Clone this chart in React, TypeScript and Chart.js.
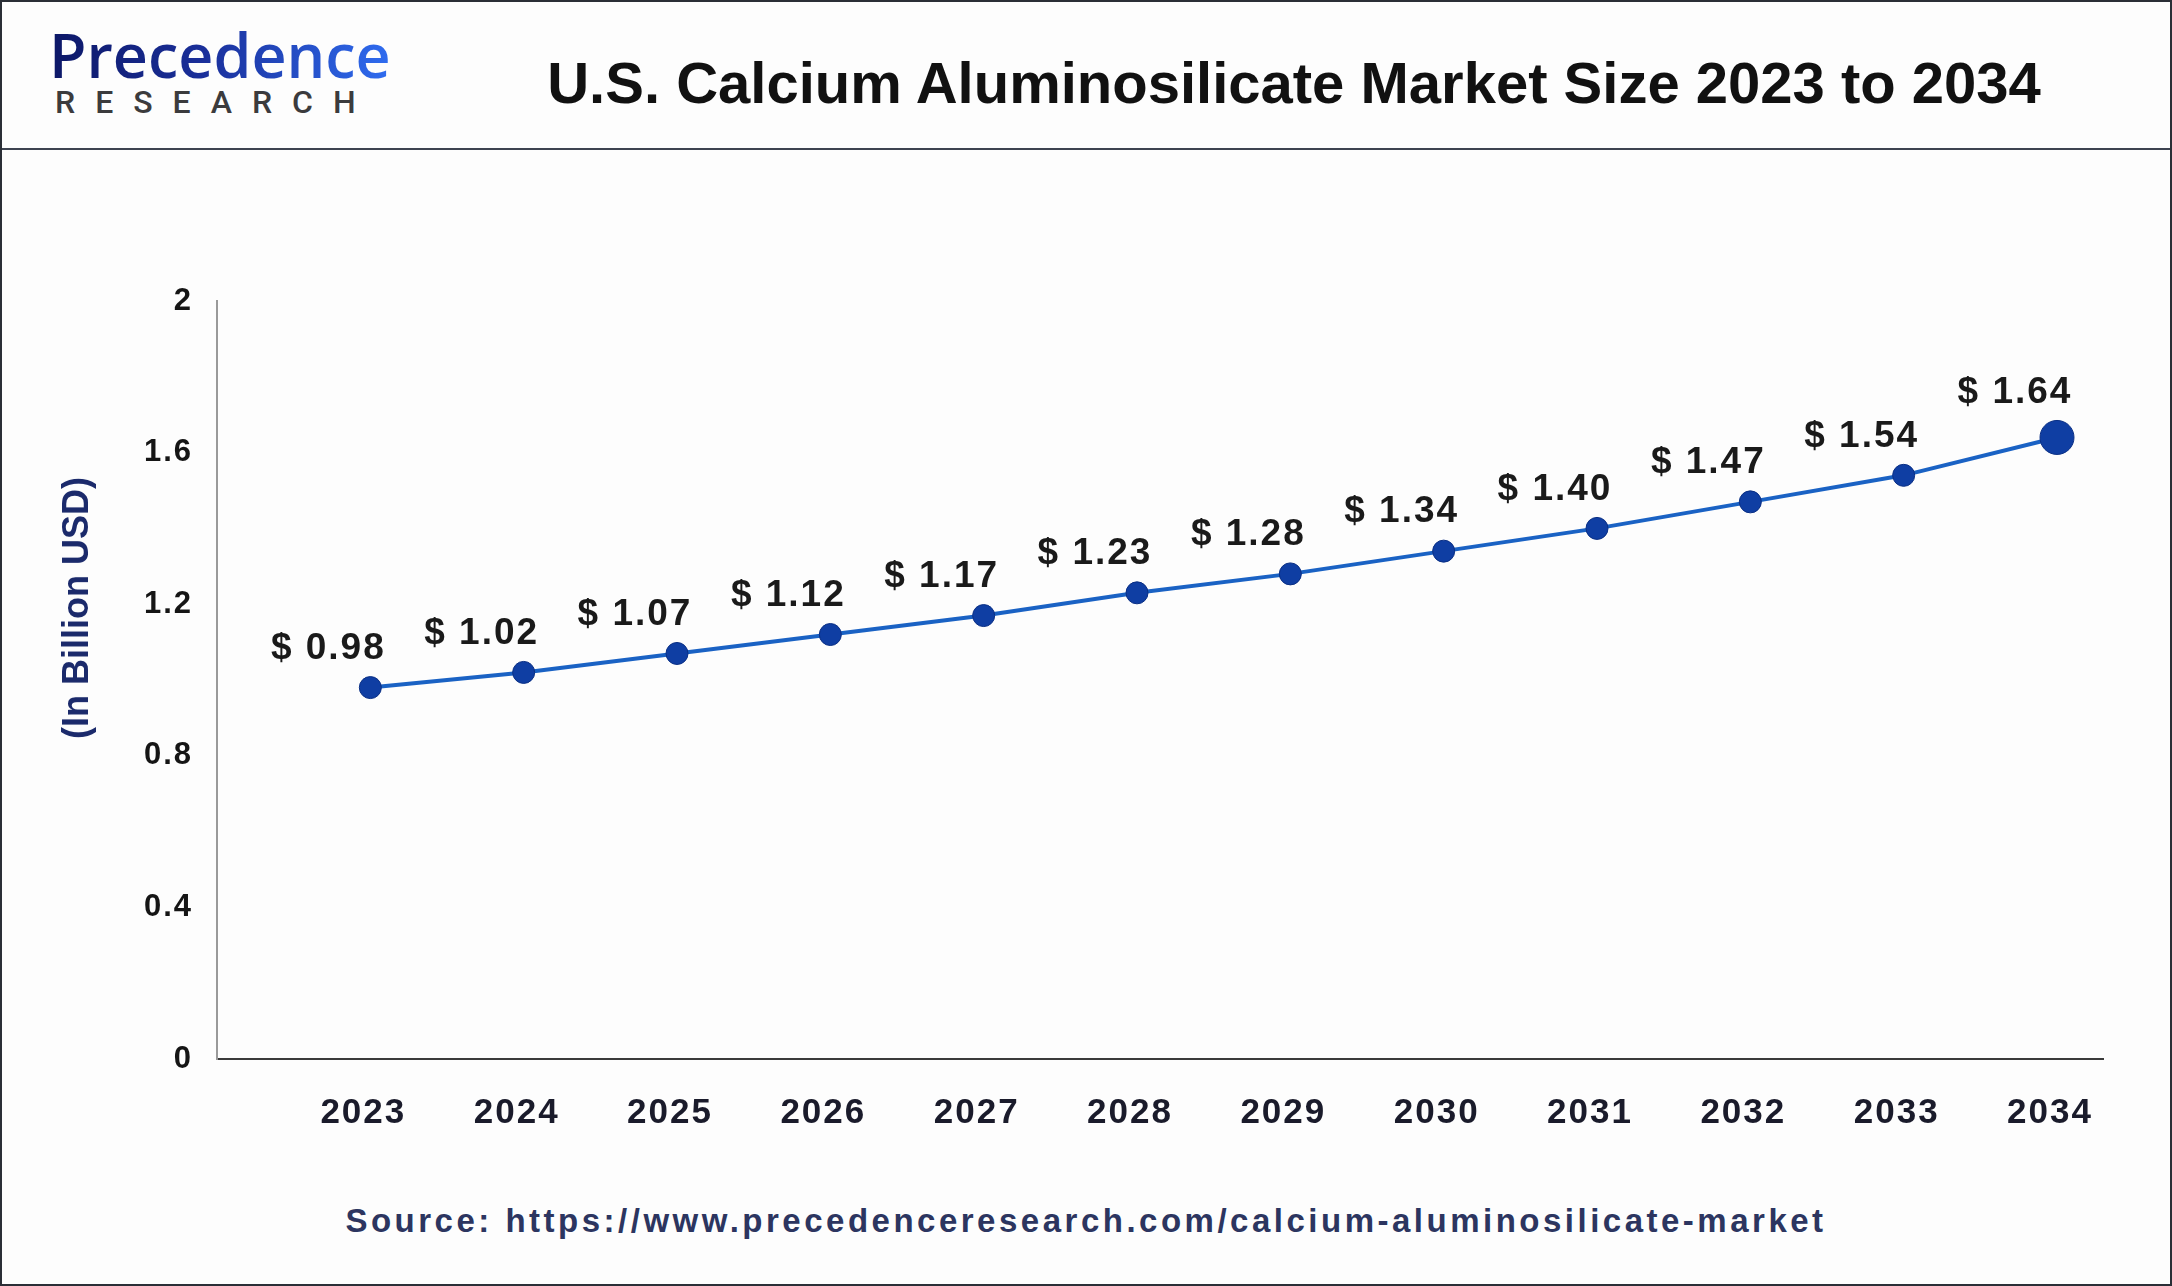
import React, { useEffect, useRef } from 'react';
import { Chart, registerables } from 'chart.js';

Chart.register(...registerables);

const years = [2023, 2024, 2025, 2026, 2027, 2028, 2029, 2030, 2031, 2032, 2033, 2034];
const marketSize = [0.98, 1.02, 1.07, 1.12, 1.17, 1.23, 1.28, 1.34, 1.4, 1.47, 1.54, 1.64];
const yTicks = [0, 0.4, 0.8, 1.2, 1.6, 2];
const titleText = 'U.S. Calcium Aluminosilicate Market Size 2023 to 2034';
const yAxisTitle = '(In Billion USD)';
const sourceText = 'Source: https://www.precedenceresearch.com/calcium-aluminosilicate-market';

const FONT = '"Liberation Sans", Arial, Helvetica, sans-serif';

const spacingPlugin = {
  id: 'spacingPlugin',
  beforeDraw(chart: any) {
    (chart.ctx as any).letterSpacing = '2px';
  },
};

const valueLabelPlugin = {
  id: 'valueLabelPlugin',
  afterDatasetsDraw(chart: any) {
    const meta = chart.getDatasetMeta(0);
    const ctx = chart.ctx;
    ctx.save();
    (ctx as any).letterSpacing = '2px';
    ctx.font = `bold 37px ${FONT}`;
    ctx.fillStyle = '#1a1a1a';
    ctx.textAlign = 'center';
    ctx.textBaseline = 'middle';
    const last = meta.data.length - 1;
    meta.data.forEach((pt: any, i: number) => {
      const r = i === last ? 17 : 11;
      ctx.fillText(`$ ${marketSize[i].toFixed(2)}`, pt.x - 42, pt.y - r - 28);
    });
    ctx.restore();
  },
};

function LineChart() {
  const ref = useRef<HTMLCanvasElement | null>(null);
  useEffect(() => {
    if (!ref.current) return;
    const last = years.length - 1;
    const chart = new Chart(ref.current, {
      type: 'line',
      data: {
        datasets: [
          {
            label: 'Market Size',
            data: years.map((y, i) => ({ x: y, y: marketSize[i] })),
            borderColor: '#1a62c4',
            borderWidth: 4,
            pointRadius: years.map((_, i) => (i === last ? 17 : 11)),
            pointHoverRadius: years.map((_, i) => (i === last ? 17 : 11)),
            pointBackgroundColor: '#0f3ea3',
            pointBorderColor: '#0a2f84',
            pointBorderWidth: 1,
            tension: 0,
            fill: false,
          },
        ],
      },
      options: {
        animation: false,
        responsive: false,
        devicePixelRatio: 1,
        layout: { padding: { left: 0, right: 71, top: 139, bottom: 23 } },
        plugins: {
          legend: { display: false },
          tooltip: { enabled: false },
          title: { display: false },
        },
        scales: {
          x: {
            type: 'linear',
            min: 2022,
            max: 2034.3,
            grid: { display: false, drawTicks: false },
            border: { display: true, color: '#3a3a3a', width: 2 },
            afterBuildTicks: (axis: any) => {
              axis.ticks = years.map((v) => ({ value: v }));
            },
            afterFit: (scale: any) => {
              scale.height = 80;
            },
            ticks: {
              padding: 33,
              labelOffset: -7,
              color: '#1a1b2b',
              font: { family: FONT, size: 35, weight: 'bold' },
              callback: (v: any) => String(v),
              maxRotation: 0,
              autoSkip: false,
            },
          },
          y: {
            type: 'linear',
            min: 0,
            max: 2,
            grid: { display: false, drawTicks: false },
            border: { display: true, color: '#9a9a9a', width: 2 },
            afterBuildTicks: (axis: any) => {
              axis.ticks = yTicks.map((v) => ({ value: v }));
            },
            afterFit: (scale: any) => {
              scale.width = 215;
            },
            ticks: {
              padding: 24,
              color: '#151515',
              font: { family: FONT, size: 31, weight: 'bold' },
              callback: (v: any) => String(Number(Number(v).toFixed(1))),
            },
          },
        },
      },
      plugins: [spacingPlugin, valueLabelPlugin],
    } as any);
    return () => chart.destroy();
  }, []);
  return (
    <canvas
      ref={ref}
      width={2172}
      height={1000}
      style={{ position: 'absolute', left: 0, top: 160, width: 2172, height: 1000 }}
    />
  );
}

export default function App() {
  return (
    <div
      style={{
        position: 'fixed',
        left: 0,
        top: 0,
        width: 2172,
        height: 1286,
        boxSizing: 'border-box',
        border: '2px solid #2a2e36',
        background: '#fdfdfd',
        overflow: 'hidden',
        fontFamily: FONT,
      }}
    >
      <div
        style={{
          position: 'absolute',
          left: 47,
          top: 22,
          fontFamily: '"Open Sans", Lato, sans-serif',
          fontWeight: 600,
          fontSize: 61,
          lineHeight: '61px',
          whiteSpace: 'nowrap',
          background: 'linear-gradient(90deg, #0c1766 0%, #1a2f9a 45%, #2f6cf0 100%)',
          WebkitBackgroundClip: 'text',
          backgroundClip: 'text',
          color: 'transparent',
        }}
      >
        Precedence
      </div>
      <div
        style={{
          position: 'absolute',
          left: 53,
          top: 84,
          fontFamily: 'Roboto, "Liberation Sans", sans-serif',
          fontWeight: 500,
          fontSize: 32,
          lineHeight: '32px',
          letterSpacing: 20,
          color: '#3b3b3d',
          whiteSpace: 'nowrap',
        }}
      >
        RESEARCH
      </div>
      <div
        style={{
          position: 'absolute',
          left: 1292 - 1000,
          width: 2000,
          top: 52,
          textAlign: 'center',
          fontFamily: FONT,
          fontWeight: 'bold',
          fontSize: 58,
          lineHeight: '58px',
          color: '#111111',
          whiteSpace: 'nowrap',
        }}
      >
        {titleText}
      </div>
      <div
        style={{
          position: 'absolute',
          left: 0,
          top: 146,
          width: '100%',
          height: 2,
          background: '#3d4350',
        }}
      />
      <LineChart />
      <div
        style={{
          position: 'absolute',
          left: 74,
          top: 606,
          transform: 'translate(-50%, -50%) rotate(-90deg)',
          fontFamily: FONT,
          fontWeight: 'bold',
          fontSize: 36,
          lineHeight: '36px',
          color: '#1b2a6b',
          whiteSpace: 'nowrap',
        }}
      >
        {yAxisTitle}
      </div>
      <div
        style={{
          position: 'absolute',
          left: 0,
          width: 2168,
          top: 1202,
          textAlign: 'center',
          fontFamily: FONT,
          fontWeight: 'bold',
          fontSize: 33,
          lineHeight: '33px',
          letterSpacing: 3.5,
          color: '#2c3560',
          whiteSpace: 'nowrap',
        }}
      >
        {sourceText}
      </div>
    </div>
  );
}
